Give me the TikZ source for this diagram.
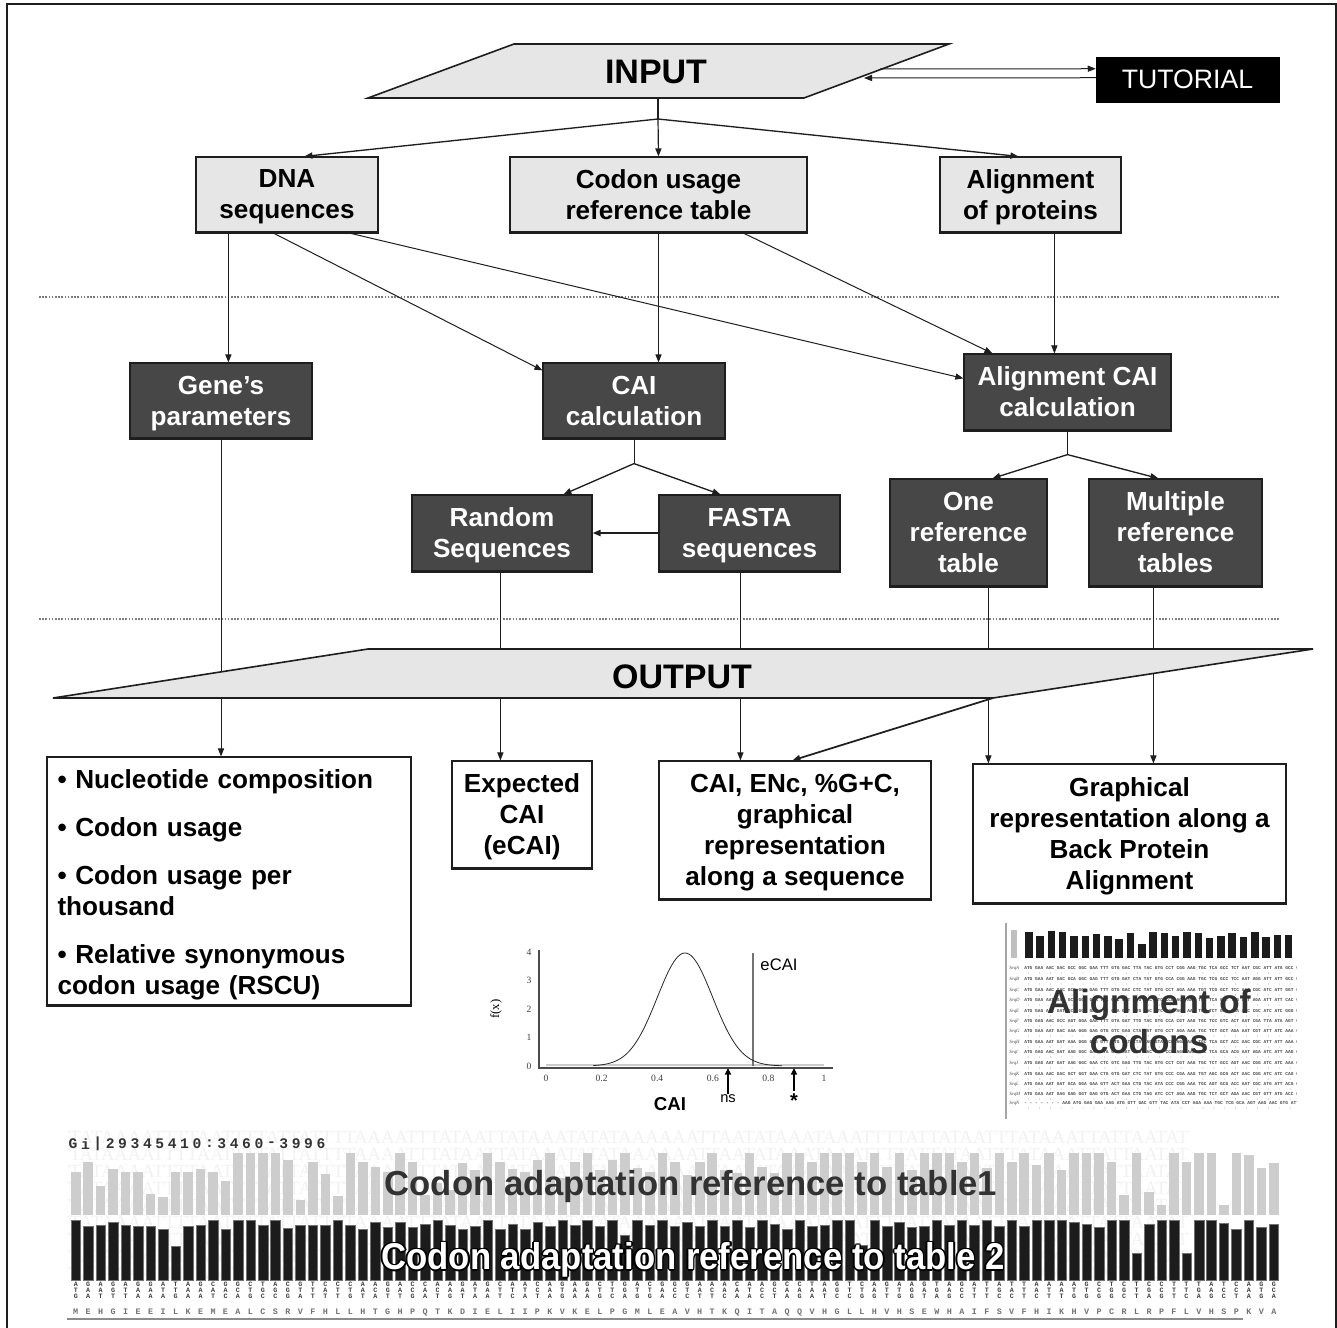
\documentclass[tikz,border=0pt]{standalone}
\usepackage{fontspec}
\setmainfont{Liberation Sans}
\newfontfamily\serifface{Liberation Serif}
\newfontfamily\monoface{Liberation Mono}
\usetikzlibrary{arrows.meta}
\definecolor{lightfill}{HTML}{E6E6E6}
\definecolor{darkfill}{HTML}{474747}
\definecolor{ink}{HTML}{1E1E1E}
\definecolor{dotgray}{HTML}{7A7A7A}
\definecolor{barlight}{HTML}{CDCDCD}
\definecolor{bardark}{HTML}{1C1C1C}
\definecolor{titlegray}{HTML}{323232}
\newcommand\boxfont{\fontsize{19.6pt}{23.25pt}\selectfont\bfseries}
\newcommand\bigfont{\fontsize{25.5pt}{30pt}\selectfont\bfseries}
\ExplSyntaxOn
\NewDocumentCommand \seqrow { O{} m m m m m }
 {
  \int_zero:N \l_tmpa_int
  \tl_map_inline:nn { #6 }
   {
    \node[seqtxt,#1,name=#2-\int_use:N \l_tmpa_int]~at~({#3+#4*\int_use:N \l_tmpa_int},#5)~{##1};
    \int_incr:N \l_tmpa_int
   }
 }
\ExplSyntaxOff
\begin{document}
\begin{tikzpicture}[x=0.75pt,y=-0.75pt,
  wh/.style 2 args={minimum width=#1*0.75pt, minimum height=#2*0.75pt},
  dx/.style={xshift=#1*0.75pt},
  dy/.style={yshift=-#1*0.75pt},
  lbox/.style={draw=ink, fill=lightfill, line width=0.9pt, inner sep=0pt, align=center, font=\boxfont, text depth=0pt},
  dbox/.style={draw=ink, fill=darkfill, text=white, line width=0.9pt, inner sep=0pt, align=center, font=\boxfont, text depth=0pt},
  wbox/.style={draw=ink, fill=white, line width=0.9pt, inner sep=0pt, align=center, font=\boxfont, text depth=0pt},
  listbox/.style={draw=ink, fill=white, line width=0.9pt, inner sep=0pt, align=left, font=\boxfont},
  ln/.style={line width=0.75pt, draw=ink},
  arr/.style={ln, -{Triangle[length=6pt,width=4.6pt]}},
  sepline/.style={draw=dotgray, line width=1.3pt, dash pattern=on 1.2pt off 1.2pt},
  seqtxt/.style={inner sep=0pt, font=\monoface\bfseries\fontsize{5pt}{5pt}\selectfont, text=black!75},
  aatxt/.style={font=\monoface\bfseries\fontsize{6.3pt}{6.3pt}\selectfont, text=black!55},
  gitxt/.style={font=\monoface\bfseries\fontsize{11pt}{11pt}\selectfont, text=black!80},
  ticktxt/.style={inner sep=0pt, font=\serifface\fontsize{7.2pt}{7.2pt}\selectfont, text=black!75},
  bgtxt/.style={inner sep=0pt, anchor=west, font=\serifface\fontsize{14pt}{14pt}\selectfont, text=black!5},
  algtxt/.style={inner sep=0pt, anchor=west, font=\monoface\bfseries\fontsize{3.4pt}{3.4pt}\selectfont, text=black!70},
  alglab/.style={inner sep=0pt, anchor=west, font=\serifface\itshape\fontsize{3.6pt}{3.6pt}\selectfont, text=black!70},
]
\useasboundingbox (0,0) rectangle (1337,1327);
\fill[white] (0,0) rectangle (1337,1327);
\draw[ink, line width=1.4pt] (7,1340) -- (7,4) -- (1336,4) -- (1336,1340);

% ---------- INPUT ----------
\draw[fill=lightfill, draw=ink, line width=1.2pt] (514,44) -- (949,44) -- (804,98) -- (368,98) -- cycle;
\node[font=\bigfont, inner sep=0pt] (input) at (656,72) {INPUT};
\coordinate (inb) at (658,98);
\coordinate (j1) at (658,119);
\coordinate (ine1) at (880,69);
\coordinate (ine2) at (864,78);
\node[fill=black, draw=black, text=white, inner sep=0pt, wh={183}{45}, font=\fontsize{20pt}{20pt}\selectfont] (tut) at (1187.5,79.5) {TUTORIAL};

% ---------- first row ----------
\node[lbox, wh={182}{75}] (dna) at (287,194.5) {DNA\\sequences};
\node[lbox, wh={297}{75}] (codon) at (658.5,194.5) {Codon usage\\reference table};
\node[lbox, wh={181}{75}] (alp) at (1030.5,194.5) {Alignment\\of proteins};

% ---------- second row ----------
\node[dbox, wh={182}{75}] (gene) at (221,400.5) {Gene’s\\parameters};
\node[dbox, wh={182}{75}] (caic) at (634,400.5) {CAI\\calculation};
\node[dbox, wh={207}{76}] (acai) at (1067.5,392) {Alignment CAI\\calculation};

% ---------- third row ----------
\node[dbox, wh={180}{76}] (rnd) at (502,533) {Random\\Sequences};
\node[dbox, wh={181}{76}] (fasta) at (749.5,533) {FASTA\\sequences};
\node[dbox, wh={157}{107}] (one) at (968.5,532.5) {One\\reference\\table};
\node[dbox, wh={173}{107}] (multi) at (1175.5,532.5) {Multiple\\reference\\tables};

% ---------- output boxes ----------
\node[listbox, wh={364}{248}, text width=343*0.75pt] (nuc) at (229,881) {\rule{0pt}{20.5pt}• Nucleotide composition\\[12.75pt]• Codon usage\\[12.75pt]• Codon usage per\\thousand\\[12.75pt]• Relative synonymous\\codon usage (RSCU)};
\node[wbox, wh={140}{107}] (exp) at (522,814.5) {Expected\\CAI\\(eCAI)};
\node[wbox, wh={272}{138}] (cen) at (795,830) {CAI, ENc, \%G+C,\\graphical\\representation\\along a sequence};
\node[wbox, wh={313}{139}] (graph) at (1129.5,833.5) {Graphical\\representation along a\\Back Protein\\Alignment};

\foreach \n in {dna,codon,alp,gene,caic,acai,rnd,fasta,one,multi,nuc,exp,cen,graph}
  \draw[ink, line width=1.8pt] (\n.south west) -- (\n.south east);

% ---------- separators ----------
\draw[sepline] (39,297) -- (1279,297);
\draw[sepline] (39,619) -- (1279,619);

% ---------- connectors (top) ----------
\draw[ln, line width=0.9pt] (inb) -- (j1);
\draw[arr, line width=1pt] (j1) -- ([dx=109]dna.north west);
\draw[arr, line width=0.9pt] (j1) -- (codon.north);
\draw[arr, line width=1pt] (j1) -- ([dx=79]alp.north west);
\draw[arr] (ine1) -- ([dy=12]tut.north west);
\draw[arr] ([dy=21]tut.north west) -- (ine2);

\draw[arr] ([dx=33]dna.south west) -- ([dx=99]gene.north west);
\draw[arr] ([dx=77]dna.south west) -- ([dy=8]caic.north west);
\draw[arr] ([dx=152]dna.south west) -- ([dy=25]acai.north west);
\draw[arr] (codon.south) -- (codon.south |- caic.north);
\draw[arr] ([dx=233]codon.south west) -- ([dx=29]acai.north west);
\draw[arr] ([dx=115]alp.south west) -- ([dx=91]acai.north west);

\coordinate (j2) at ([dy=25]caic.south);
\draw[ln] (caic.south) -- (j2);
\draw[arr, line width=1pt] (j2) -- ([dx=152]rnd.north west);
\draw[arr, line width=1pt] (j2) -- ([dx=62]fasta.north west);
\draw[arr, line width=1.7pt] (fasta.west) -- (rnd.east);

\coordinate (j3) at ([dy=24]acai.south);
\draw[ln] (acai.south) -- (j3);
\draw[arr, line width=1pt] (j3) -- ([dx=103]one.north west);
\draw[arr, line width=1pt] (j3) -- ([dx=70]multi.north west);

% ---------- connectors through OUTPUT ----------
\draw[arr] (gene.south) -- (gene.south |- nuc.north);
\draw[arr] ([dx=89]rnd.south west) -- ([dx=49]exp.north west);
\draw[arr] ([dx=82]fasta.south west) -- ([dx=82]cen.north west);
\draw[arr] ([dx=99]one.south west) -- ([dx=16]graph.north west);
\draw[arr] ([dx=65]multi.south west) -- ([dx=181]graph.north west);

% ---------- OUTPUT ----------
\draw[fill=lightfill, draw=ink, line width=1.2pt] (368,649) -- (1313,649) -- (993,698) -- (53,698) -- cycle;
\node[font=\bigfont, inner sep=0pt] (output) at (682,677) {OUTPUT};
\coordinate (ob) at (993,698);
\draw[arr, line width=1.3pt] (ob) -- ([dx=134]cen.north west);

% ---------- CAI distribution plot ----------
\draw[black!20, line width=1.3pt] (546,1065) -- (824,1065);
\draw[black!70, line width=0.9pt] (539,950) -- (539,1068) -- (833,1068);
\draw[black!55, line width=0.9pt] (753,953) -- (753,1066);
\draw[black!85, line width=0.6pt] plot[domain=0.17:0.85, samples=90, smooth] ({546+278*\x},{1066-113*exp(-((\x-0.5)^2)/0.01988)});
\foreach \v [count=\i] in {0,0.2,0.4,0.6,0.8,1}
  \node[ticktxt, name=xt\i] at ({546+278*\v},1078) {\v};
\foreach \v [count=\i] in {0,...,4}
  \node[ticktxt, name=yt\i] at (529,{1066-28.5*\v}) {\v};
\node[font=\serifface\fontsize{9.5pt}{9.5pt}\selectfont, rotate=90, inner sep=0pt] (fx) at (496,1009) {f(x)};
\node[font=\fontsize{12.5pt}{12.5pt}\selectfont, inner sep=0pt] (ecai) at (779,965) {eCAI};
\node[font=\bfseries\fontsize{14pt}{14pt}\selectfont, inner sep=0pt] (cailbl) at (670,1104) {CAI};
\node[font=\fontsize{11pt}{11pt}\selectfont, inner sep=0pt] (ns) at (728,1099) {ns};
\node[font=\bfseries\fontsize{15pt}{15pt}\selectfont, inner sep=0pt] (star) at (794,1101) {*};
\coordinate (axns) at (728,1068);
\coordinate (axst) at (794,1068);
\draw[black, line width=1.1pt, -{Triangle[length=5pt,width=4.6pt]}] ([dy=-1]ns.north) -- (axns);
\draw[black, line width=1.1pt, -{Triangle[length=5pt,width=4.6pt]}] ([dy=-3]star.north) -- (axst);

% ---------- Alignment of codons picture ----------
\begin{scope}
\clip (1003,920) rectangle (1296,1120);
\draw[black!35, line width=1.5pt] (1006,923) -- (1006,1119);
\fill[black!25] (1011,930) rectangle (1017,958);
\foreach \t [count=\i] in {932,936,931,932,936,936,934,936,939,933,944,932,933,936,932,933,938,936,933,937,932,937,935,935}
  \fill[bardark] ({1025+11.3*(\i-1)},\t) rectangle ({1032.5+11.3*(\i-1)},958);
\foreach \yy/\lab/\s [count=\i] in {
 968/SeqA/{ATG GAA AAC GAC GCC GGC GAA TTT GTG GAC TTA TAC GTG CCT CGG AAG TGC TCA GCC TCT AAT CGC ATT ATA GCC GCA},
 979/SeqB/{ATG GAA AAT GAC GCA GGC GAG TTT GTG GAT CTA TAT GTG CCA CGG AAG TGC TCG GCC TCC AAT AGG ATT ATT GCC GCG},
 990/SeqC/{ATG GAA AAC GAC GCC GGC GAG TTT GTG GAC CTC TAT GTG CCT AGA AAA TGT TCG GCT TCC AAT CGC ATC ATT GGT GCA},
 1000/SeqD/{ATG GAA AAT GAC GCT GGT GAA TTC GTC GAT CTG TAC GTC CCC AGG AAA TGT TCA GCT TCG AAT AGA ATT ATT CAC GCT},
 1011/SeqE/{ATG GAG AAC GAT GCT GGC GAA TTC GTA GAT TTG TAC GTC CCG AGG AAG TGC TCT GCA TCA AAC CGC ATC ATC GGG GCC},
 1021/SeqF/{ATG GAG AAC GCC AGT GGA GAA TTT GTA GAT TTG TAC GTG CCA CGT AAG TGC TCC GTC ACT AAT CGA TTA ATA AGT GCT},
 1031/SeqG/{ATG GAA AAT GAC AAA GGG GAG GTG GTC GAG CTA TAT GTG CCT AGA AAA TGC TCT GCT AGA AAT CGT ATT ATC AAA GCA},
 1042/SeqH/{ATG GAA AAT GAT AAA GGG GAG GTT GTG GAT CTA TAC GTA CCG AGA AAA TGC TCA GCT ACC AAC CGC ATT ATT AAA GCT},
 1052/SeqI/{ATG GAG AAC GAT AAG GGC GAA GTA GTT GAT CTG TAC GTG CCG AGG AAA TGC TCA GCA ACG AAT AGA ATC ATT AAG GCG},
 1063/SeqJ/{ATG GAG AAT GAT AAG GGC GAA CTC GTC GAG TTG TAC GTG CCT CGT AAG TGC TCT GCC AGT AAC CGG ATC ATC AAA GCC},
 1074/SeqK/{ATG GAA AAC GAC GCT GGT GAA CTG GTG GAT CTC TAT GTG CCC CGA AAG TGT AGC GCG ACT AAC CGG ATC ATC CAG GCG},
 1084/SeqL/{ATG GAA AAT GAT GCA GGA GAA GTT ACT GAA CTG TAC ATA CCC CGG AAA TGC AGT GCG ACC AAT CGC ATG ATT ACG GCA},
 1094/SeqM/{ATG GAA AAT GAG GAG GGT GAG GTG ACT GAA CTG TAG ATC CCT AGA AAG TGC TCT GCT AGA AAC CGT GTT ATG ACC GCT},
 1103/SeqN/{- - - - - - - AAG ATG GAG GAA AAG ATG GTT GAC GTT TAC ATA CCT AGA AAA TGC TCG GCA AGT AAG AAC GTG ATT GGT}}
{
  \node[alglab, name=al\i] at (1009,\yy) {\lab};
  \node[algtxt, name=as\i] at (1024,\yy) {\s};
  \foreach \k in {0,...,25}
    \fill[black!50] ({1028.5+10.9*\k},{\yy+5}) circle[radius=0.35pt];
}
\end{scope}
\node[font=\bfseries\fontsize{25pt}{30pt}\selectfont, text=titlegray, align=center, inner sep=0pt] (aligncod) at (1149,1022) {Alignment of\\codons};

% ---------- bottom panel ----------
\begin{scope}
\clip (67,1128) rectangle (1280,1282);
\foreach \yy [count=\i] in {1137,1154,1171,1188,1205,1222,1239,1256,1273}
  \node[bgtxt, name=bg\i] at (58,\yy) {TTATAAAATTTTAATTTTATTATTTTAAAATTTATAATTATAAATATATAAAAAATTAATATAAATAAATTTTATTATAATTTATAAATTATTAATAT};
\end{scope}
\foreach \t [count=\i] in {1172,1162,1186,1169,1172,1172,1194,1197,1172,1172,1169,1172,1181,1153,1153,1153,1153,1160,1200,1162,1174,1196,1153,1162,1167,1172,1153,1162,1195,1183,1190,1163,1170,1153,1162,1169,1172,1160,1153,1178,1162,1153,1170,1160,1153,1168,1172,1153,1162,1175,1162,1153,1170,1173,1153,1167,1173,1153,1153,1162,1153,1153,1153,1162,1153,1167,1153,1170,1153,1153,1153,1162,1153,1168,1153,1162,1153,1165,1153,1170,1153,1153,1153,1162,1195,1153,1192,1205,1153,1162,1153,1153,1205,1153,1155,1168,1163}
  \fill[barlight] ({71+12.48*(\i-1)},\t) rectangle ({80.5+12.48*(\i-1)},1215);
\foreach \t [count=\i] in {1220,1226,1225,1222,1225,1226,1226,1229,1246,1226,1225,1220,1229,1220,1220,1225,1220,1228,1225,1225,1225,1220,1225,1229,1222,1227,1222,1227,1224,1220,1225,1229,1226,1220,1229,1224,1229,1222,1226,1220,1225,1220,1226,1220,1235,1220,1225,1220,1226,1222,1226,1220,1226,1220,1227,1220,1224,1229,1220,1226,1225,1220,1220,1245,1220,1226,1222,1227,1226,1220,1225,1220,1225,1220,1226,1220,1226,1220,1220,1220,1222,1224,1227,1220,1220,1253,1224,1220,1220,1253,1220,1220,1223,1229,1220,1227,1224}
  \fill[bardark, draw=black!55, line width=0.3pt] ({71+12.48*(\i-1)},\t) rectangle ({80.5+12.48*(\i-1)},1280);

\seqrow{na}{75.75}{12.48}{1284}{AGAGAGGATAGCGGCTACGTCCCAAGACCAAGAGCAACAGAGCTGACGGGAAACAAGCCTAGTCAGAAGTAGATATTAAAAGCTCTCCTTTATCAGG}
\seqrow{nb}{75.75}{12.48}{1290}{TAAGTAATTAAAACTGGGTTATTACGACACAATATTTCATAATTGTTACTACAATCCAAAAGTTATTGAGACTTGATATATTCGGTGCTTGACCATC}
\seqrow{nc}{75.75}{12.48}{1296}{GATTTAAAGAATCAGCCGATTTGTATTGATGTAATCATAGAAGCAGGACCTTCAACTAGATCCGGTGGTAGCTTCCTCTTGGGGCTAGTCAGCTAGA}
\seqrow[aatxt]{aa}{75.75}{12.48}{1312}{MEHGIEEILKEMEALCSRVFHLLHTGHPQTKDIELIIPKVKELPGMLEAVHTKQITAQQVHGLLHVHSEWHAIFSVFHIKHVPCRLRPFLVHSPKVA}
\seqrow[gitxt]{gi}{73}{12.4}{1144}{Gi|29345410:3460-3996}
\draw[black!45, line width=1.6pt] (67,1319) -- (1243,1319);

\node[font=\bfseries\fontsize{26pt}{26pt}\selectfont, text=titlegray, inner sep=0pt] (t1) at (691,1187) {Codon adaptation reference to table1};
\foreach \a [count=\i] in {0,45,...,315}
  \node[font=\bfseries\fontsize{28pt}{28pt}\selectfont, text=black, inner sep=0pt, shift={(\a:1.2pt)}, name=t2s\i] at (693,1260) {\scalebox{0.93}[1]{Codon adaptation reference to table 2}};
\node[font=\bfseries\fontsize{28pt}{28pt}\selectfont, text=white, inner sep=0pt] (t2) at (693,1260) {\scalebox{0.93}[1]{Codon adaptation reference to table 2}};
\end{tikzpicture}
\end{document}
